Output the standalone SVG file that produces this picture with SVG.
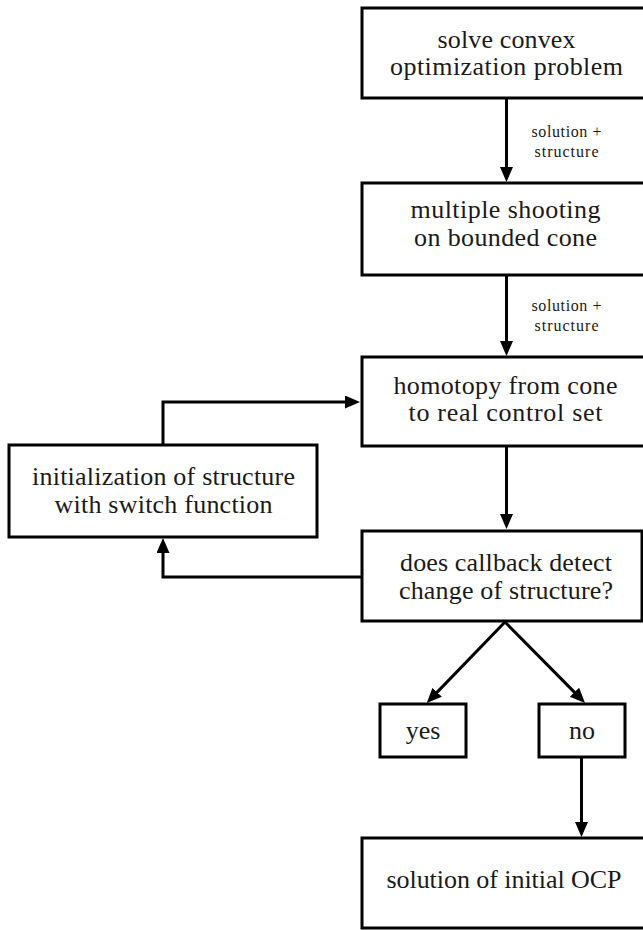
<svg xmlns="http://www.w3.org/2000/svg" width="643" height="930" viewBox="0 0 643 930">
<defs>
<style>
.box{fill:#fff;stroke:#000;stroke-width:3}
.t{font-family:"Liberation Serif","Times New Roman",serif;font-size:26px;fill:#1a1a1a;text-anchor:middle}
.s{font-family:"Liberation Serif","Times New Roman",serif;font-size:16px;fill:#1a1a1a;text-anchor:middle}
.c{fill:none;stroke:#000;stroke-width:3}
</style>
<marker id="ah" markerUnits="userSpaceOnUse" markerWidth="16" markerHeight="14" refX="10" refY="6.5" orient="auto">
<path d="M0,0 L15,6.5 L0,13 z" fill="#000"/>
</marker>
</defs>
<rect width="643" height="930" fill="#fff"/>
<g id="connectors">
<line class="c" x1="506.5" y1="98" x2="506.5" y2="177" marker-end="url(#ah)"/>
<line class="c" x1="506.5" y1="275" x2="506.5" y2="351" marker-end="url(#ah)"/>
<line class="c" x1="506.5" y1="446" x2="506.5" y2="524" marker-end="url(#ah)"/>
<polyline class="c" points="163,445 163,402 355,402" marker-end="url(#ah)"/>
<polyline class="c" points="362,577 163,577 163,543" marker-end="url(#ah)"/>
<line class="c" x1="505" y1="622" x2="430.2" y2="699.4" marker-end="url(#ah)"/>
<line class="c" x1="505" y1="622" x2="581.5" y2="699.4" marker-end="url(#ah)"/>
<line class="c" x1="581.5" y1="757" x2="581.5" y2="832" marker-end="url(#ah)"/>
<text class="s" x="566.5" y="137" textLength="70">solution +</text>
<text class="s" x="566.5" y="157" textLength="64">structure</text>
<text class="s" x="566.5" y="311" textLength="70">solution +</text>
<text class="s" x="566.5" y="331" textLength="64">structure</text>
</g>
<g id="n1">
<rect class="box" x="362" y="8" width="292" height="90"/>
<text class="t" x="506.5" y="48" textLength="138">solve convex</text>
<text class="t" x="506.5" y="75" textLength="233">optimization problem</text>
</g>
<g id="n2">
<rect class="box" x="362" y="183" width="292" height="92"/>
<text class="t" x="505.5" y="218" textLength="190">multiple shooting</text>
<text class="t" x="505.5" y="246" textLength="183">on bounded cone</text>
</g>
<g id="n3">
<rect class="box" x="362" y="357" width="292" height="89"/>
<text class="t" x="505.5" y="394" textLength="224">homotopy from cone</text>
<text class="t" x="505.5" y="421" textLength="194">to real control set</text>
</g>
<g id="n4">
<rect class="box" x="9" y="445" width="308" height="92"/>
<text class="t" x="163.5" y="485" textLength="263">initialization of structure</text>
<text class="t" x="163.5" y="513" textLength="218">with switch function</text>
</g>
<g id="n5">
<rect class="box" x="362" y="531" width="280" height="90"/>
<text class="t" x="506" y="571" textLength="212">does callback detect</text>
<text class="t" x="506" y="599" textLength="214">change of structure?</text>
</g>
<g id="n6">
<rect class="box" x="380" y="704" width="86" height="53"/>
<text class="t" x="423" y="739">yes</text>
</g>
<g id="n7">
<rect class="box" x="539" y="704" width="86" height="53"/>
<text class="t" x="582" y="739">no</text>
</g>
<g id="n8">
<rect class="box" x="362" y="838" width="292" height="90"/>
<text class="t" x="504" y="888" textLength="235">solution of initial OCP</text>
</g>
</svg>
